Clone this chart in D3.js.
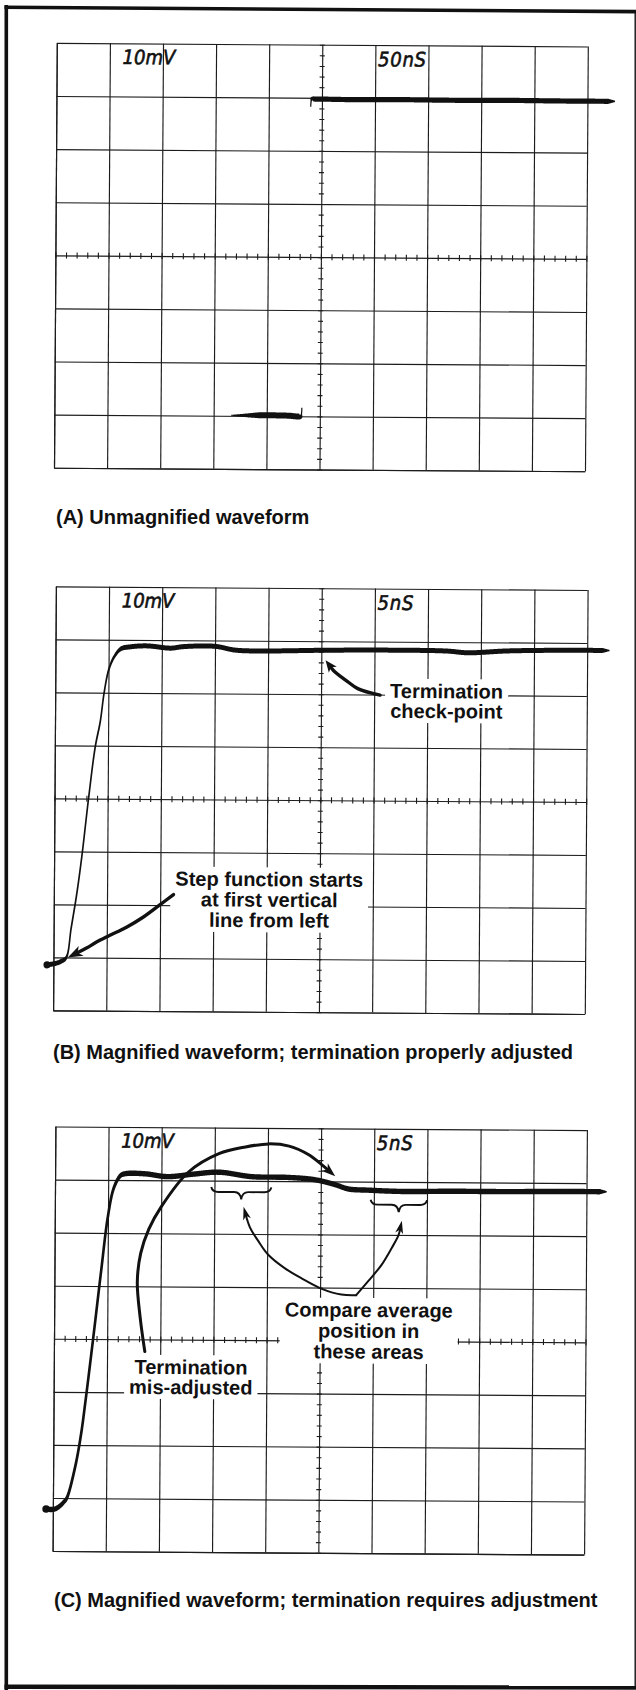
<!DOCTYPE html>
<html>
<head>
<meta charset="utf-8">
<script src="https://cdn.jsdelivr.net/npm/d3@7"></script>
<style>
  html, body { margin: 0; padding: 0; background: #fff; }
  svg { display: block; }
  .cap  { font-family: "Liberation Sans", Arial, sans-serif; font-weight: 700; font-size: 20px; fill: #111; }
  .note { font-family: "Liberation Sans", Arial, sans-serif; font-weight: 700; font-size: 20px; fill: #111; }
  .scl  { font-family: "DejaVu Sans Condensed", "DejaVu Sans", sans-serif; font-style: italic; font-weight: 400; font-size: 20px; fill: #111; stroke: #111; stroke-width: 0.6px; }
</style>
</head>
<body>
<svg id="fig" width="636" height="1690"></svg>
<script>
// ---- graticule: 10 x 8 major divisions, 5 minor steps on the centre lines ----
const xDivs = d3.range(0, 11);
const yDivs = d3.range(0, 9);
const minorTicks = d3.range(0, 51).map(i => i / 5);
const minorTicksY = d3.range(0, 41).map(i => i / 5);

// ---- panel texts ----
const captions = [
  "(A) Unmagnified waveform",
  "(B) Magnified waveform; termination properly adjusted",
  "(C) Magnified waveform; termination requires adjustment"
];
const voltLabels = ["10mV", "10mV", "10mV"];
const timeLabels = ["50nS", "5nS", "5nS"];

// ---- traces: [time (div), amplitude (div from bottom)] ----
const traceA_low = [[3.33, 1.01], [3.6, 1.01], [4.0, 1.015], [4.4, 1.01], [4.64, 1.005], [4.655, 1.06], [4.66, 1.16]];
const traceA_high = [[4.79, 6.83], [4.795, 6.92], [4.81, 6.97], [4.9, 6.975], [5.5, 6.97], [6.5, 6.975], [7.5, 6.97], [8.5, 6.975], [9.5, 6.97], [10.52, 6.97]];
const traceB = [[-0.16, 0.86], [-0.05, 0.87], [0.05, 0.89], [0.15, 0.93], [0.24, 1.0], [0.33, 1.56], [0.43, 2.2], [0.52, 2.9],
  [0.64, 4.0], [0.76, 4.98], [0.85, 5.45], [0.92, 6.0], [1.0, 6.42], [1.1, 6.67], [1.23, 6.83], [1.41, 6.87], [1.72, 6.89],
  [2.17, 6.85], [2.4, 6.88], [3.0, 6.89], [3.39, 6.82], [4.01, 6.81], [5.08, 6.83], [6.21, 6.84], [7.36, 6.83], [7.75, 6.8],
  [8.51, 6.84], [9.66, 6.86], [10.42, 6.86]];
const traceC = [[-0.17, 0.79], [0.03, 0.79], [0.13, 0.85], [0.2, 0.92], [0.26, 1.0], [0.41, 1.57], [0.52, 2.2], [0.6, 2.83],
  [0.74, 4.04], [0.88, 5.3], [1.0, 6.32], [1.11, 6.86], [1.23, 7.08], [1.32, 7.12], [1.7, 7.12], [2.11, 7.07], [2.6, 7.12],
  [3.08, 7.16], [3.7, 7.08], [4.39, 7.07], [4.89, 7.03], [5.27, 6.94], [5.52, 6.86], [5.9, 6.84], [6.53, 6.82], [7.47, 6.83],
  [8.5, 6.83], [9.5, 6.84], [10.38, 6.84]];

// ---- callouts (division units) ----
const checkArrowB = [[6.11, 5.99], [5.69, 6.11], [5.46, 6.27], [5.23, 6.45], [5.08, 6.64]];
const stepArrowB = [[2.25, 2.2], [2.0, 2.01], [1.68, 1.77], [1.37, 1.58], [1.05, 1.42], [0.8, 1.29], [0.62, 1.18], [0.27, 1.0]];
const archArrowC = [[1.71, 3.77], [1.62, 4.4], [1.56, 5.08], [1.62, 5.62], [1.77, 6.08], [2.0, 6.5], [2.51, 7.16], [3.08, 7.51],
  [3.58, 7.64], [4.02, 7.7], [4.4, 7.66], [4.77, 7.5], [5.02, 7.31], [5.27, 7.1]];
const compareArrowC1 = [[5.68, 4.86], [5.4, 4.87], [5.02, 4.98], [4.65, 5.17], [4.33, 5.36], [4.02, 5.61], [3.83, 5.87], [3.67, 6.13], [3.55, 6.51]];
const compareArrowC2 = [[5.68, 4.86], [5.9, 5.12], [6.15, 5.43], [6.34, 5.75], [6.47, 6.0], [6.53, 6.27]];
const bracesC = [[2.94, 4.07, 6.88, 6.65], [5.94, 7.0, 6.66, 6.43]];

const ink = "#111";
const tilt = 0.38;
const fig = d3.select("#fig");

// page border
fig.append("line").attr("x1", 6.3).attr("y1", 5).attr("x2", 6.3).attr("y2", 1690).attr("stroke", ink).attr("stroke-width", 3.6);
fig.append("line").attr("x1", 4.5).attr("y1", 7.2).attr("x2", 636).attr("y2", 11.6).attr("stroke", ink).attr("stroke-width", 3.6);
fig.append("line").attr("x1", 4.5).attr("y1", 1686.7).attr("x2", 636).attr("y2", 1687.5).attr("stroke", ink).attr("stroke-width", 4.4);
fig.append("line").attr("x1", 635.2).attr("y1", 10).attr("x2", 635.2).attr("y2", 1688).attr("stroke", ink).attr("stroke-width", 1.4);

function lineGen(sx, sy) {
  return d3.line().x(d => sx(d[0])).y(d => sy(d[1])).curve(d3.curveCatmullRom.alpha(0.5));
}

// beam trace: thickness follows beam speed (slow = bright/thick, fast = faint/thin)
function beam(g, pts, sx, sy, o) {
  const tmp = g.append("path").attr("d", lineGen(sx, sy)(pts)).attr("fill", "none");
  const node = tmp.node(), L = node.getTotalLength();
  const n = Math.max(2, Math.ceil(L / 0.6));
  const P = d3.range(n + 1).map(i => node.getPointAtLength(L * i / n));
  tmp.remove();
  const left = [], right = [];
  for (let i = 0; i <= n; i++) {
    const a = P[Math.max(0, i - 2)], b = P[Math.min(n, i + 2)];
    let dx = b.x - a.x, dy = b.y - a.y;
    const len = Math.hypot(dx, dy) || 1; dx /= len; dy /= len;
    const slope = Math.abs(dy) / (Math.abs(dx) + 1e-6);
    let w = o.wMin + (o.wMax - o.wMin) / (1 + o.k * slope * slope);
    const s = L * i / n;
    if (o.taperStart && s < o.taperStart) w *= 0.15 + 0.85 * s / o.taperStart;
    if (o.taperEnd && L - s < o.taperEnd) w *= 0.25 + 0.75 * (L - s) / o.taperEnd;
    left.push([P[i].x - dy * w / 2, P[i].y + dx * w / 2]);
    right.push([P[i].x + dy * w / 2, P[i].y - dx * w / 2]);
  }
  const poly = left.concat(right.reverse());
  g.append("path").attr("d", "M" + poly.map(p => p[0].toFixed(2) + "," + p[1].toFixed(2)).join("L") + "Z").attr("fill", ink);
  if (o.dot) g.append("circle").attr("cx", sx(pts[0][0]) + o.dot * 0.6).attr("cy", sy(pts[0][1])).attr("r", o.dot).attr("fill", ink);
}

function arrow(g, pts, sx, sy, sw, hl, hw) {
  const p = g.append("path").attr("d", lineGen(sx, sy)(pts)).attr("fill", "none")
    .attr("stroke", ink).attr("stroke-width", sw).attr("stroke-linecap", "round");
  const node = p.node(), L = node.getTotalLength();
  const tip = node.getPointAtLength(L), back = node.getPointAtLength(Math.max(0, L - hl));
  let ux = tip.x - back.x, uy = tip.y - back.y;
  const m = Math.hypot(ux, uy) || 1; ux /= m; uy /= m;
  const nx = -uy, ny = ux;
  const bx = tip.x - ux * hl, by = tip.y - uy * hl;
  const head = [[tip.x, tip.y], [bx + nx * hw, by + ny * hw], [tip.x - ux * hl * 0.72, tip.y - uy * hl * 0.72], [bx - nx * hw, by - ny * hw]];
  g.append("path").attr("d", "M" + head.map(q => q.join(",")).join("L") + "Z").attr("fill", ink);
  p.attr("stroke-dasharray", (L - hl * 0.6) + " " + L);
}

function brace(g, b, sx, sy) {
  const X1 = sx(b[0]), X2 = sx(b[1]), XM = (X1 + X2) / 2, YA = sy(b[2]), YT = sy(b[3]);
  const YM = YA + (YT - YA) * 0.4, q = 7;
  const d = `M${X1},${YA} Q${X1 + 1},${YM} ${X1 + q},${YM} L${XM - q},${YM} Q${XM - 1},${YM} ${XM},${YT}` +
            ` Q${XM + 1},${YM} ${XM + q},${YM} L${X2 - q},${YM} Q${X2 - 1},${YM} ${X2},${YA}`;
  g.append("path").attr("d", d).attr("fill", "none").attr("stroke", ink).attr("stroke-width", 1.9);
}

function note(g, spec, sx, sy) {
  const ng = g.append("g");
  const r = ng.append("rect").attr("fill", "#fff");
  const t = ng.append("text").attr("class", "note").attr("text-anchor", "middle");
  spec.lines.forEach((s, i) => t.append("tspan").attr("x", sx(spec.x)).attr("y", sy(spec.y) + i * spec.lh).text(s));
  const bb = t.node().getBBox();
  r.attr("x", bb.x - 5).attr("y", bb.y - 1).attr("width", bb.width + 10).attr("height", bb.height + 2);
}

function panel(cfg, i) {
  const g = fig.append("g")
    .attr("transform", `rotate(${tilt},${cfg.x0 + cfg.w / 2},${cfg.y0 + cfg.h / 2})`);
  const sx = d3.scaleLinear().domain([0, 10]).range([cfg.x0, cfg.x0 + cfg.w]);
  const sy = d3.scaleLinear().domain([0, 8]).range([cfg.y0 + cfg.h, cfg.y0]);

  // major graticule from axes
  const vx = g.append("g").attr("transform", `translate(0,${cfg.y0 + cfg.h})`)
    .call(d3.axisBottom(sx).tickValues(xDivs).tickSize(-cfg.h).tickSizeOuter(0).tickFormat(""));
  const hy = g.append("g").attr("transform", `translate(${cfg.x0},0)`)
    .call(d3.axisLeft(sy).tickValues(yDivs).tickSize(-cfg.w).tickSizeOuter(0).tickFormat(""));
  [vx, hy].forEach(a => {
    a.selectAll("line").attr("stroke", "#1c1c1c").attr("stroke-width", 1.15);
    a.select(".domain").attr("stroke", "#1c1c1c").attr("stroke-width", 1.15);
  });

  // minor ticks on the centre lines
  const mh = g.append("g").attr("transform", `translate(0,${sy(4) - 3})`)
    .call(d3.axisBottom(sx).tickValues(minorTicks).tickSize(6).tickFormat(""));
  const mv = g.append("g").attr("transform", `translate(${sx(5) - 2.5},0)`)
    .call(d3.axisRight(sy).tickValues(minorTicksY).tickSize(5).tickFormat(""));
  [mh, mv].forEach(a => {
    a.select(".domain").remove();
    a.selectAll("line").attr("stroke", "#1c1c1c").attr("stroke-width", 1.1);
  });

  // sensitivity labels
  g.append("text").attr("class", "scl").attr("x", sx(1.24)).attr("y", sy(7.61)).text(voltLabels[i]);
  g.append("text").attr("class", "scl").attr("x", sx(6.05)).attr("y", sy(7.6)).attr("letter-spacing", 0.8).text(timeLabels[i]);

  cfg.draw(g, sx, sy);
}

const panels = [
  { x0: 55.4, y0: 44.7, w: 531, h: 424.8, cap: [56, 524],
    draw(g, sx, sy) {
      beam(g, traceA_low, sx, sy, { wMin: 1.2, wMax: 6, k: 0.6, taperStart: 28 });
      beam(g, traceA_high, sx, sy, { wMin: 1.2, wMax: 5.2, k: 0.6, taperEnd: 7 });
    } },
  { x0: 54.5, y0: 588.2, w: 531.7, h: 424, cap: [53, 1059],
    draw(g, sx, sy) {
      note(g, { lines: ["Termination", "check-point"], x: 7.36, y: 5.94, lh: 20 }, sx, sy);
      note(g, { lines: ["Step function starts", "at first vertical", "line from left"], x: 4.05, y: 2.37, lh: 20.5 }, sx, sy);
      beam(g, traceB, sx, sy, { wMin: 1.6, wMax: 5, k: 0.8, taperEnd: 7, dot: 3.6 });
      arrow(g, checkArrowB, sx, sy, 3.4, 12, 5);
      arrow(g, stepArrowB, sx, sy, 3.4, 15, 5.5);
    } },
  { x0: 54, y0: 1128.3, w: 531.5, h: 424.5, cap: [54, 1607],
    draw(g, sx, sy) {
      note(g, { lines: ["Compare average", "position in", "these areas"], x: 5.92, y: 4.45, lh: 20.8 }, sx, sy);
      note(g, { lines: ["Termination", "mis-adjusted"], x: 2.58, y: 3.35, lh: 20 }, sx, sy);
      beam(g, traceC, sx, sy, { wMin: 2.6, wMax: 5.4, k: 0.8, taperEnd: 7, dot: 3.8 });
      bracesC.forEach(b => brace(g, b, sx, sy));
      arrow(g, archArrowC, sx, sy, 3, 14, 5);
      arrow(g, compareArrowC1, sx, sy, 2, 13, 4);
      arrow(g, compareArrowC2, sx, sy, 2, 13, 4);
    } }
];

panels.forEach((p, i) => {
  panel(p, i);
  fig.append("text").attr("class", "cap").attr("x", p.cap[0]).attr("y", p.cap[1]).text(captions[i]);
});
</script>
</body>
</html>
